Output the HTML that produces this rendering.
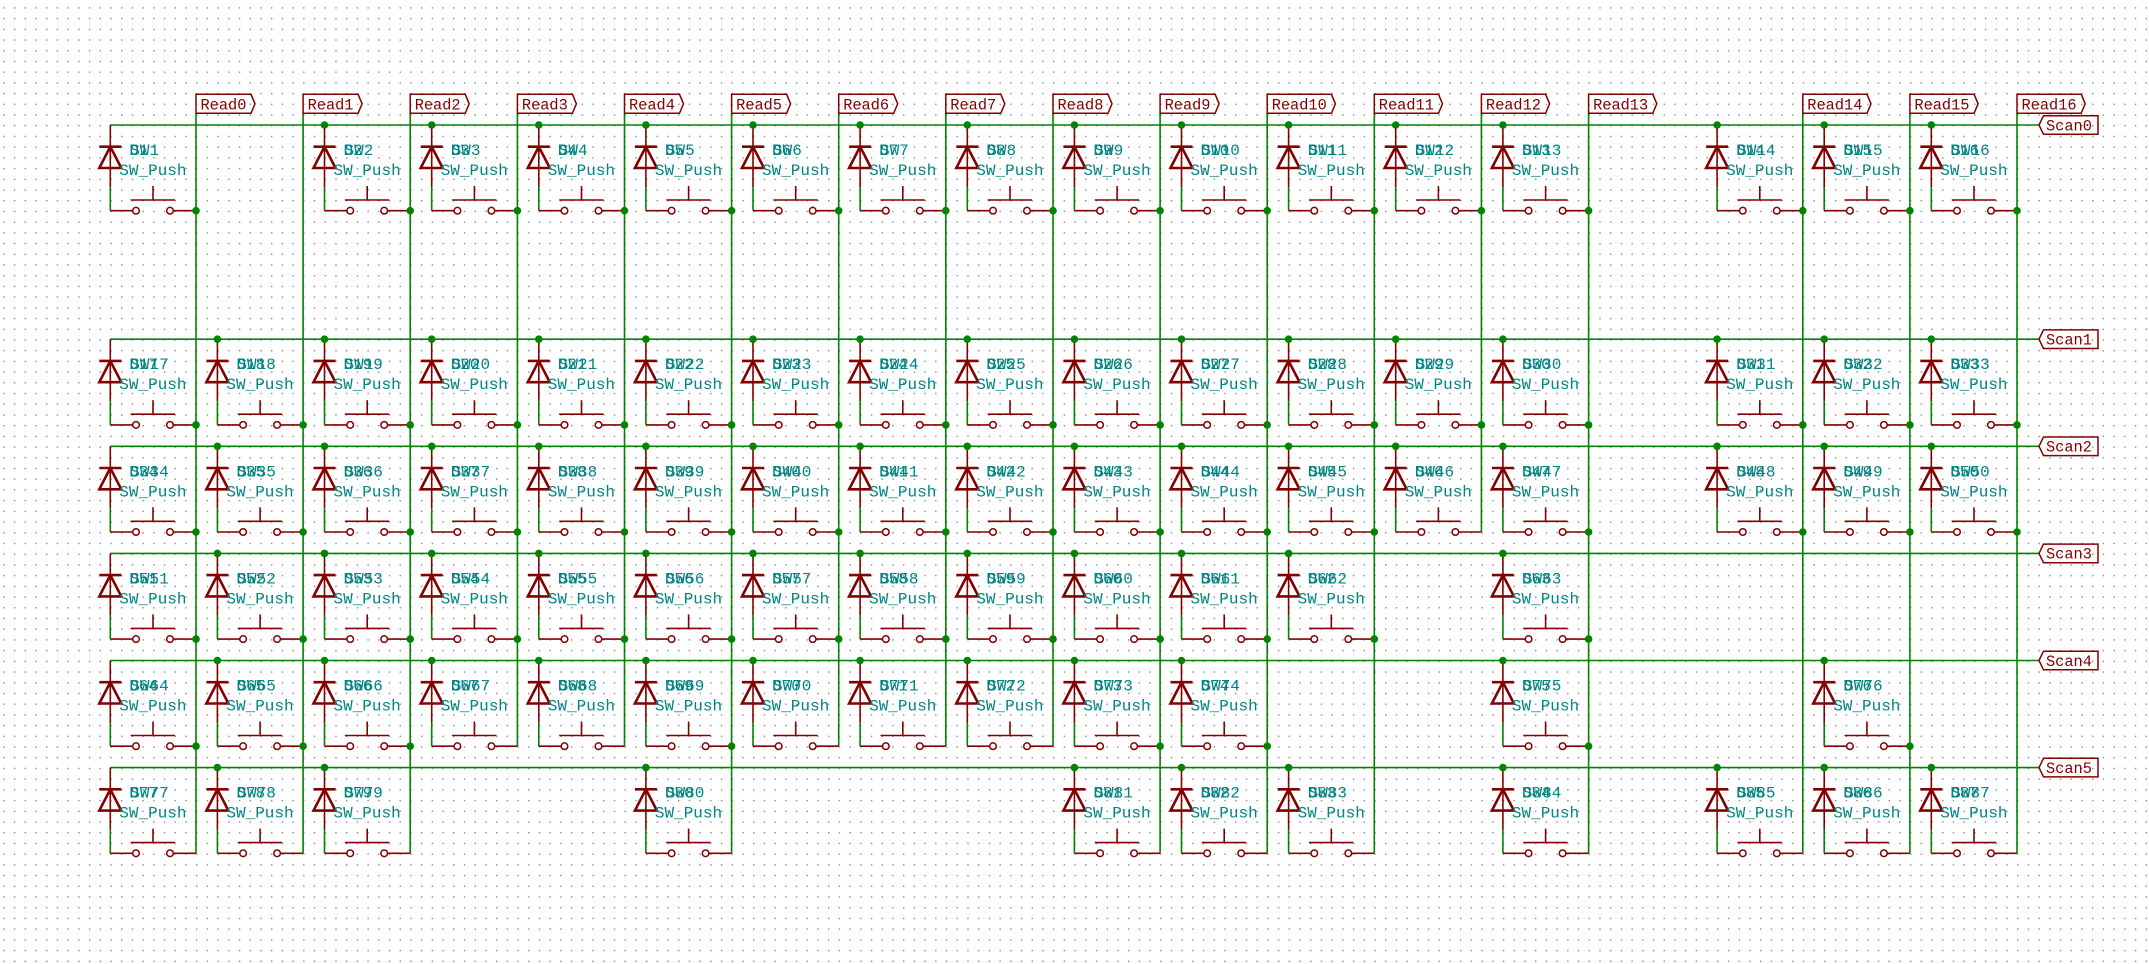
<!DOCTYPE html>
<html><head><meta charset="utf-8"><style>
html,body{margin:0;padding:0;background:#fff;width:2149px;height:964px;overflow:hidden}
svg{display:block}
.t{font-family:"Liberation Mono",monospace;font-size:16px;fill:#008484}
.l{font-family:"Liberation Mono",monospace;font-size:15.3px;fill:#840000}
</style></head><body>
<svg width="2149" height="964" viewBox="0 0 2149 964" xmlns="http://www.w3.org/2000/svg">
<defs>
<pattern id="grid" x="3.2" y="7.2" width="10.712" height="10.712" patternUnits="userSpaceOnUse"><rect x="0" y="0" width="1.4" height="1.4" fill="#8a8a8a"/></pattern>
<g id="sw">
<line x1="0" y1="0" x2="0" y2="62" stroke="#840000" stroke-width="1.6"/>
<line x1="0" y1="62" x2="0" y2="85.7" stroke="#008400" stroke-width="1.6"/>
<line x1="-11" y1="21.7" x2="11" y2="21.7" stroke="#840000" stroke-width="2.6"/>
<polygon points="0,21.7 -11,43 11,43" fill="none" stroke="#840000" stroke-width="2.6"/>
<line x1="0" y1="85.7" x2="22.4" y2="85.7" stroke="#840000" stroke-width="1.6"/>
<circle cx="25.7" cy="85.7" r="3.3" fill="none" stroke="#840000" stroke-width="1.5"/>
<circle cx="59.7" cy="85.7" r="3.3" fill="none" stroke="#840000" stroke-width="1.5"/>
<line x1="63" y1="85.7" x2="85.7" y2="85.7" stroke="#840000" stroke-width="1.6"/>
<line x1="20.4" y1="75" x2="64.7" y2="75" stroke="#840000" stroke-width="1.6"/>
<line x1="42.7" y1="61" x2="42.7" y2="75" stroke="#840000" stroke-width="1.6"/>
</g>
<circle id="dot" cx="0" cy="0" r="3.8" fill="#008400"/>
</defs>
<rect width="2149" height="964" fill="url(#grid)"/>

<g stroke="#008400" stroke-width="1.6">
<!-- scan lines -->
<line x1="110.3" y1="125" x2="2039" y2="125"/>
<line x1="110.3" y1="339.2" x2="2039" y2="339.2"/>
<line x1="110.3" y1="446.3" x2="2039" y2="446.3"/>
<line x1="110.3" y1="553.4" x2="2039" y2="553.4"/>
<line x1="110.3" y1="660.5" x2="2039" y2="660.5"/>
<line x1="110.3" y1="767.6" x2="2039" y2="767.6"/>
<!-- read lines -->
<line x1="196" y1="113.3" x2="196" y2="853.3"/>
<line x1="303.1" y1="113.3" x2="303.1" y2="853.3"/>
<line x1="410.2" y1="113.3" x2="410.2" y2="853.3"/>
<line x1="517.4" y1="113.3" x2="517.4" y2="746.2"/>
<line x1="624.5" y1="113.3" x2="624.5" y2="746.2"/>
<line x1="731.6" y1="113.3" x2="731.6" y2="853.3"/>
<line x1="838.7" y1="113.3" x2="838.7" y2="746.2"/>
<line x1="945.8" y1="113.3" x2="945.8" y2="746.2"/>
<line x1="1053" y1="113.3" x2="1053" y2="746.2"/>
<line x1="1160.1" y1="113.3" x2="1160.1" y2="853.3"/>
<line x1="1267.2" y1="113.3" x2="1267.2" y2="853.3"/>
<line x1="1374.3" y1="113.3" x2="1374.3" y2="853.3"/>
<line x1="1481.4" y1="113.3" x2="1481.4" y2="532"/>
<line x1="1588.6" y1="113.3" x2="1588.6" y2="853.3"/>
<line x1="1802.8" y1="113.3" x2="1802.8" y2="853.3"/>
<line x1="1909.9" y1="113.3" x2="1909.9" y2="853.3"/>
<line x1="2017" y1="113.3" x2="2017" y2="853.3"/>
</g>

<!-- Read labels -->
<g fill="none" stroke="#840000" stroke-width="1.5">
<path d="M196,113.3V94.3H251L255,103.8L251,113.3Z"/>
<path d="M303.1,113.3V94.3H358.1L362.1,103.8L358.1,113.3Z"/>
<path d="M410.2,113.3V94.3H465.2L469.2,103.8L465.2,113.3Z"/>
<path d="M517.4,113.3V94.3H572.4L576.4,103.8L572.4,113.3Z"/>
<path d="M624.5,113.3V94.3H679.5L683.5,103.8L679.5,113.3Z"/>
<path d="M731.6,113.3V94.3H786.6L790.6,103.8L786.6,113.3Z"/>
<path d="M838.7,113.3V94.3H893.7L897.7,103.8L893.7,113.3Z"/>
<path d="M945.8,113.3V94.3H1000.8L1004.8,103.8L1000.8,113.3Z"/>
<path d="M1053,113.3V94.3H1108L1112,103.8L1108,113.3Z"/>
<path d="M1160.1,113.3V94.3H1215.1L1219.1,103.8L1215.1,113.3Z"/>
<path d="M1267.2,113.3V94.3H1331.4L1335.4,103.8L1331.4,113.3Z"/>
<path d="M1374.3,113.3V94.3H1438.5L1442.5,103.8L1438.5,113.3Z"/>
<path d="M1481.4,113.3V94.3H1545.6L1549.6,103.8L1545.6,113.3Z"/>
<path d="M1588.6,113.3V94.3H1652.8L1656.8,103.8L1652.8,113.3Z"/>
<path d="M1802.8,113.3V94.3H1867L1871,103.8L1867,113.3Z"/>
<path d="M1909.9,113.3V94.3H1974.1L1978.1,103.8L1974.1,113.3Z"/>
<path d="M2017,113.3V94.3H2081.2L2085.2,103.8L2081.2,113.3Z"/>
<path d="M2039,125L2043.5,115.7H2098V134.3H2043.5Z"/>
<path d="M2039,339.2L2043.5,329.9H2098V348.5H2043.5Z"/>
<path d="M2039,446.3L2043.5,437H2098V455.6H2043.5Z"/>
<path d="M2039,553.4L2043.5,544.1H2098V562.7H2043.5Z"/>
<path d="M2039,660.5L2043.5,651.2H2098V669.8H2043.5Z"/>
<path d="M2039,767.6L2043.5,758.3H2098V776.9H2043.5Z"/>
</g>
<g class="l">
<text x="200.5" y="109.3">Read0</text>
<text x="307.6" y="109.3">Read1</text>
<text x="414.7" y="109.3">Read2</text>
<text x="521.9" y="109.3">Read3</text>
<text x="629" y="109.3">Read4</text>
<text x="736.1" y="109.3">Read5</text>
<text x="843.2" y="109.3">Read6</text>
<text x="950.3" y="109.3">Read7</text>
<text x="1057.5" y="109.3">Read8</text>
<text x="1164.6" y="109.3">Read9</text>
<text x="1271.7" y="109.3">Read10</text>
<text x="1378.8" y="109.3">Read11</text>
<text x="1485.9" y="109.3">Read12</text>
<text x="1593.1" y="109.3">Read13</text>
<text x="1807.3" y="109.3">Read14</text>
<text x="1914.4" y="109.3">Read15</text>
<text x="2021.5" y="109.3">Read16</text>
<text x="2046" y="130.3">Scan0</text>
<text x="2046" y="344.5">Scan1</text>
<text x="2046" y="451.6">Scan2</text>
<text x="2046" y="558.7">Scan3</text>
<text x="2046" y="665.8">Scan4</text>
<text x="2046" y="772.9">Scan5</text>
</g>

<!-- Switch cells -->
<g class="t">
<!-- row 0 -->
<g transform="translate(110.3,125)"><use href="#sw"/><text x="19" y="30">D1</text><text x="20" y="30">SW1</text><text x="9" y="50">SW_Push</text></g>
<g transform="translate(324.5,125)"><use href="#sw"/><text x="19" y="30">D2</text><text x="20" y="30">SW2</text><text x="9" y="50">SW_Push</text></g>
<g transform="translate(431.7,125)"><use href="#sw"/><text x="19" y="30">D3</text><text x="20" y="30">SW3</text><text x="9" y="50">SW_Push</text></g>
<g transform="translate(538.8,125)"><use href="#sw"/><text x="19" y="30">D4</text><text x="20" y="30">SW4</text><text x="9" y="50">SW_Push</text></g>
<g transform="translate(645.9,125)"><use href="#sw"/><text x="19" y="30">D5</text><text x="20" y="30">SW5</text><text x="9" y="50">SW_Push</text></g>
<g transform="translate(753,125)"><use href="#sw"/><text x="19" y="30">D6</text><text x="20" y="30">SW6</text><text x="9" y="50">SW_Push</text></g>
<g transform="translate(860.1,125)"><use href="#sw"/><text x="19" y="30">D7</text><text x="20" y="30">SW7</text><text x="9" y="50">SW_Push</text></g>
<g transform="translate(967.3,125)"><use href="#sw"/><text x="19" y="30">D8</text><text x="20" y="30">SW8</text><text x="9" y="50">SW_Push</text></g>
<g transform="translate(1074.4,125)"><use href="#sw"/><text x="19" y="30">D9</text><text x="20" y="30">SW9</text><text x="9" y="50">SW_Push</text></g>
<g transform="translate(1181.5,125)"><use href="#sw"/><text x="19" y="30">D10</text><text x="20" y="30">SW10</text><text x="9" y="50">SW_Push</text></g>
<g transform="translate(1288.6,125)"><use href="#sw"/><text x="19" y="30">D11</text><text x="20" y="30">SW11</text><text x="9" y="50">SW_Push</text></g>
<g transform="translate(1395.7,125)"><use href="#sw"/><text x="19" y="30">D12</text><text x="20" y="30">SW12</text><text x="9" y="50">SW_Push</text></g>
<g transform="translate(1502.9,125)"><use href="#sw"/><text x="19" y="30">D13</text><text x="20" y="30">SW13</text><text x="9" y="50">SW_Push</text></g>
<g transform="translate(1717.1,125)"><use href="#sw"/><text x="19" y="30">D14</text><text x="20" y="30">SW14</text><text x="9" y="50">SW_Push</text></g>
<g transform="translate(1824.2,125)"><use href="#sw"/><text x="19" y="30">D15</text><text x="20" y="30">SW15</text><text x="9" y="50">SW_Push</text></g>
<g transform="translate(1931.3,125)"><use href="#sw"/><text x="19" y="30">D16</text><text x="20" y="30">SW16</text><text x="9" y="50">SW_Push</text></g>
<!-- row 1 -->
<g transform="translate(110.3,339.2)"><use href="#sw"/><text x="19" y="30">D17</text><text x="20" y="30">SW17</text><text x="9" y="50">SW_Push</text></g>
<g transform="translate(217.4,339.2)"><use href="#sw"/><text x="19" y="30">D18</text><text x="20" y="30">SW18</text><text x="9" y="50">SW_Push</text></g>
<g transform="translate(324.5,339.2)"><use href="#sw"/><text x="19" y="30">D19</text><text x="20" y="30">SW19</text><text x="9" y="50">SW_Push</text></g>
<g transform="translate(431.7,339.2)"><use href="#sw"/><text x="19" y="30">D20</text><text x="20" y="30">SW20</text><text x="9" y="50">SW_Push</text></g>
<g transform="translate(538.8,339.2)"><use href="#sw"/><text x="19" y="30">D21</text><text x="20" y="30">SW21</text><text x="9" y="50">SW_Push</text></g>
<g transform="translate(645.9,339.2)"><use href="#sw"/><text x="19" y="30">D22</text><text x="20" y="30">SW22</text><text x="9" y="50">SW_Push</text></g>
<g transform="translate(753,339.2)"><use href="#sw"/><text x="19" y="30">D23</text><text x="20" y="30">SW23</text><text x="9" y="50">SW_Push</text></g>
<g transform="translate(860.1,339.2)"><use href="#sw"/><text x="19" y="30">D24</text><text x="20" y="30">SW24</text><text x="9" y="50">SW_Push</text></g>
<g transform="translate(967.3,339.2)"><use href="#sw"/><text x="19" y="30">D25</text><text x="20" y="30">SW25</text><text x="9" y="50">SW_Push</text></g>
<g transform="translate(1074.4,339.2)"><use href="#sw"/><text x="19" y="30">D26</text><text x="20" y="30">SW26</text><text x="9" y="50">SW_Push</text></g>
<g transform="translate(1181.5,339.2)"><use href="#sw"/><text x="19" y="30">D27</text><text x="20" y="30">SW27</text><text x="9" y="50">SW_Push</text></g>
<g transform="translate(1288.6,339.2)"><use href="#sw"/><text x="19" y="30">D28</text><text x="20" y="30">SW28</text><text x="9" y="50">SW_Push</text></g>
<g transform="translate(1395.7,339.2)"><use href="#sw"/><text x="19" y="30">D29</text><text x="20" y="30">SW29</text><text x="9" y="50">SW_Push</text></g>
<g transform="translate(1502.9,339.2)"><use href="#sw"/><text x="19" y="30">D30</text><text x="20" y="30">SW30</text><text x="9" y="50">SW_Push</text></g>
<g transform="translate(1717.1,339.2)"><use href="#sw"/><text x="19" y="30">D31</text><text x="20" y="30">SW31</text><text x="9" y="50">SW_Push</text></g>
<g transform="translate(1824.2,339.2)"><use href="#sw"/><text x="19" y="30">D32</text><text x="20" y="30">SW32</text><text x="9" y="50">SW_Push</text></g>
<g transform="translate(1931.3,339.2)"><use href="#sw"/><text x="19" y="30">D33</text><text x="20" y="30">SW33</text><text x="9" y="50">SW_Push</text></g>
<!-- row 2 -->
<g transform="translate(110.3,446.3)"><use href="#sw"/><text x="19" y="30">D34</text><text x="20" y="30">SW34</text><text x="9" y="50">SW_Push</text></g>
<g transform="translate(217.4,446.3)"><use href="#sw"/><text x="19" y="30">D35</text><text x="20" y="30">SW35</text><text x="9" y="50">SW_Push</text></g>
<g transform="translate(324.5,446.3)"><use href="#sw"/><text x="19" y="30">D36</text><text x="20" y="30">SW36</text><text x="9" y="50">SW_Push</text></g>
<g transform="translate(431.7,446.3)"><use href="#sw"/><text x="19" y="30">D37</text><text x="20" y="30">SW37</text><text x="9" y="50">SW_Push</text></g>
<g transform="translate(538.8,446.3)"><use href="#sw"/><text x="19" y="30">D38</text><text x="20" y="30">SW38</text><text x="9" y="50">SW_Push</text></g>
<g transform="translate(645.9,446.3)"><use href="#sw"/><text x="19" y="30">D39</text><text x="20" y="30">SW39</text><text x="9" y="50">SW_Push</text></g>
<g transform="translate(753,446.3)"><use href="#sw"/><text x="19" y="30">D40</text><text x="20" y="30">SW40</text><text x="9" y="50">SW_Push</text></g>
<g transform="translate(860.1,446.3)"><use href="#sw"/><text x="19" y="30">D41</text><text x="20" y="30">SW41</text><text x="9" y="50">SW_Push</text></g>
<g transform="translate(967.3,446.3)"><use href="#sw"/><text x="19" y="30">D42</text><text x="20" y="30">SW42</text><text x="9" y="50">SW_Push</text></g>
<g transform="translate(1074.4,446.3)"><use href="#sw"/><text x="19" y="30">D43</text><text x="20" y="30">SW43</text><text x="9" y="50">SW_Push</text></g>
<g transform="translate(1181.5,446.3)"><use href="#sw"/><text x="19" y="30">D44</text><text x="20" y="30">SW44</text><text x="9" y="50">SW_Push</text></g>
<g transform="translate(1288.6,446.3)"><use href="#sw"/><text x="19" y="30">D45</text><text x="20" y="30">SW45</text><text x="9" y="50">SW_Push</text></g>
<g transform="translate(1395.7,446.3)"><use href="#sw"/><text x="19" y="30">D46</text><text x="20" y="30">SW46</text><text x="9" y="50">SW_Push</text></g>
<g transform="translate(1502.9,446.3)"><use href="#sw"/><text x="19" y="30">D47</text><text x="20" y="30">SW47</text><text x="9" y="50">SW_Push</text></g>
<g transform="translate(1717.1,446.3)"><use href="#sw"/><text x="19" y="30">D48</text><text x="20" y="30">SW48</text><text x="9" y="50">SW_Push</text></g>
<g transform="translate(1824.2,446.3)"><use href="#sw"/><text x="19" y="30">D49</text><text x="20" y="30">SW49</text><text x="9" y="50">SW_Push</text></g>
<g transform="translate(1931.3,446.3)"><use href="#sw"/><text x="19" y="30">D50</text><text x="20" y="30">SW50</text><text x="9" y="50">SW_Push</text></g>
<!-- row 3 -->
<g transform="translate(110.3,553.4)"><use href="#sw"/><text x="19" y="30">D51</text><text x="20" y="30">SW51</text><text x="9" y="50">SW_Push</text></g>
<g transform="translate(217.4,553.4)"><use href="#sw"/><text x="19" y="30">D52</text><text x="20" y="30">SW52</text><text x="9" y="50">SW_Push</text></g>
<g transform="translate(324.5,553.4)"><use href="#sw"/><text x="19" y="30">D53</text><text x="20" y="30">SW53</text><text x="9" y="50">SW_Push</text></g>
<g transform="translate(431.7,553.4)"><use href="#sw"/><text x="19" y="30">D54</text><text x="20" y="30">SW54</text><text x="9" y="50">SW_Push</text></g>
<g transform="translate(538.8,553.4)"><use href="#sw"/><text x="19" y="30">D55</text><text x="20" y="30">SW55</text><text x="9" y="50">SW_Push</text></g>
<g transform="translate(645.9,553.4)"><use href="#sw"/><text x="19" y="30">D56</text><text x="20" y="30">SW56</text><text x="9" y="50">SW_Push</text></g>
<g transform="translate(753,553.4)"><use href="#sw"/><text x="19" y="30">D57</text><text x="20" y="30">SW57</text><text x="9" y="50">SW_Push</text></g>
<g transform="translate(860.1,553.4)"><use href="#sw"/><text x="19" y="30">D58</text><text x="20" y="30">SW58</text><text x="9" y="50">SW_Push</text></g>
<g transform="translate(967.3,553.4)"><use href="#sw"/><text x="19" y="30">D59</text><text x="20" y="30">SW59</text><text x="9" y="50">SW_Push</text></g>
<g transform="translate(1074.4,553.4)"><use href="#sw"/><text x="19" y="30">D60</text><text x="20" y="30">SW60</text><text x="9" y="50">SW_Push</text></g>
<g transform="translate(1181.5,553.4)"><use href="#sw"/><text x="19" y="30">D61</text><text x="20" y="30">SW61</text><text x="9" y="50">SW_Push</text></g>
<g transform="translate(1288.6,553.4)"><use href="#sw"/><text x="19" y="30">D62</text><text x="20" y="30">SW62</text><text x="9" y="50">SW_Push</text></g>
<g transform="translate(1502.9,553.4)"><use href="#sw"/><text x="19" y="30">D63</text><text x="20" y="30">SW63</text><text x="9" y="50">SW_Push</text></g>
<!-- row 4 -->
<g transform="translate(110.3,660.5)"><use href="#sw"/><text x="19" y="30">D64</text><text x="20" y="30">SW64</text><text x="9" y="50">SW_Push</text></g>
<g transform="translate(217.4,660.5)"><use href="#sw"/><text x="19" y="30">D65</text><text x="20" y="30">SW65</text><text x="9" y="50">SW_Push</text></g>
<g transform="translate(324.5,660.5)"><use href="#sw"/><text x="19" y="30">D66</text><text x="20" y="30">SW66</text><text x="9" y="50">SW_Push</text></g>
<g transform="translate(431.7,660.5)"><use href="#sw"/><text x="19" y="30">D67</text><text x="20" y="30">SW67</text><text x="9" y="50">SW_Push</text></g>
<g transform="translate(538.8,660.5)"><use href="#sw"/><text x="19" y="30">D68</text><text x="20" y="30">SW68</text><text x="9" y="50">SW_Push</text></g>
<g transform="translate(645.9,660.5)"><use href="#sw"/><text x="19" y="30">D69</text><text x="20" y="30">SW69</text><text x="9" y="50">SW_Push</text></g>
<g transform="translate(753,660.5)"><use href="#sw"/><text x="19" y="30">D70</text><text x="20" y="30">SW70</text><text x="9" y="50">SW_Push</text></g>
<g transform="translate(860.1,660.5)"><use href="#sw"/><text x="19" y="30">D71</text><text x="20" y="30">SW71</text><text x="9" y="50">SW_Push</text></g>
<g transform="translate(967.3,660.5)"><use href="#sw"/><text x="19" y="30">D72</text><text x="20" y="30">SW72</text><text x="9" y="50">SW_Push</text></g>
<g transform="translate(1074.4,660.5)"><use href="#sw"/><text x="19" y="30">D73</text><text x="20" y="30">SW73</text><text x="9" y="50">SW_Push</text></g>
<g transform="translate(1181.5,660.5)"><use href="#sw"/><text x="19" y="30">D74</text><text x="20" y="30">SW74</text><text x="9" y="50">SW_Push</text></g>
<g transform="translate(1502.9,660.5)"><use href="#sw"/><text x="19" y="30">D75</text><text x="20" y="30">SW75</text><text x="9" y="50">SW_Push</text></g>
<g transform="translate(1824.2,660.5)"><use href="#sw"/><text x="19" y="30">D76</text><text x="20" y="30">SW76</text><text x="9" y="50">SW_Push</text></g>
<!-- row 5 -->
<g transform="translate(110.3,767.6)"><use href="#sw"/><text x="19" y="30">D77</text><text x="20" y="30">SW77</text><text x="9" y="50">SW_Push</text></g>
<g transform="translate(217.4,767.6)"><use href="#sw"/><text x="19" y="30">D78</text><text x="20" y="30">SW78</text><text x="9" y="50">SW_Push</text></g>
<g transform="translate(324.5,767.6)"><use href="#sw"/><text x="19" y="30">D79</text><text x="20" y="30">SW79</text><text x="9" y="50">SW_Push</text></g>
<g transform="translate(645.9,767.6)"><use href="#sw"/><text x="19" y="30">D80</text><text x="20" y="30">SW80</text><text x="9" y="50">SW_Push</text></g>
<g transform="translate(1074.4,767.6)"><use href="#sw"/><text x="19" y="30">D81</text><text x="20" y="30">SW81</text><text x="9" y="50">SW_Push</text></g>
<g transform="translate(1181.5,767.6)"><use href="#sw"/><text x="19" y="30">D82</text><text x="20" y="30">SW82</text><text x="9" y="50">SW_Push</text></g>
<g transform="translate(1288.6,767.6)"><use href="#sw"/><text x="19" y="30">D83</text><text x="20" y="30">SW83</text><text x="9" y="50">SW_Push</text></g>
<g transform="translate(1502.9,767.6)"><use href="#sw"/><text x="19" y="30">D84</text><text x="20" y="30">SW84</text><text x="9" y="50">SW_Push</text></g>
<g transform="translate(1717.1,767.6)"><use href="#sw"/><text x="19" y="30">D85</text><text x="20" y="30">SW85</text><text x="9" y="50">SW_Push</text></g>
<g transform="translate(1824.2,767.6)"><use href="#sw"/><text x="19" y="30">D86</text><text x="20" y="30">SW86</text><text x="9" y="50">SW_Push</text></g>
<g transform="translate(1931.3,767.6)"><use href="#sw"/><text x="19" y="30">D87</text><text x="20" y="30">SW87</text><text x="9" y="50">SW_Push</text></g>
</g>

<!-- junction dots: top (diode on scan line) -->
<g>
<use href="#dot" x="324.5" y="125"/><use href="#dot" x="431.7" y="125"/><use href="#dot" x="538.8" y="125"/><use href="#dot" x="645.9" y="125"/><use href="#dot" x="753" y="125"/><use href="#dot" x="860.1" y="125"/><use href="#dot" x="967.3" y="125"/><use href="#dot" x="1074.4" y="125"/><use href="#dot" x="1181.5" y="125"/><use href="#dot" x="1288.6" y="125"/><use href="#dot" x="1395.7" y="125"/><use href="#dot" x="1502.9" y="125"/><use href="#dot" x="1717.1" y="125"/><use href="#dot" x="1824.2" y="125"/><use href="#dot" x="1931.3" y="125"/>

<use href="#dot" x="217.4" y="339.2"/><use href="#dot" x="324.5" y="339.2"/><use href="#dot" x="431.7" y="339.2"/><use href="#dot" x="538.8" y="339.2"/><use href="#dot" x="645.9" y="339.2"/><use href="#dot" x="753" y="339.2"/><use href="#dot" x="860.1" y="339.2"/><use href="#dot" x="967.3" y="339.2"/><use href="#dot" x="1074.4" y="339.2"/><use href="#dot" x="1181.5" y="339.2"/><use href="#dot" x="1288.6" y="339.2"/><use href="#dot" x="1395.7" y="339.2"/><use href="#dot" x="1502.9" y="339.2"/><use href="#dot" x="1717.1" y="339.2"/><use href="#dot" x="1824.2" y="339.2"/><use href="#dot" x="1931.3" y="339.2"/>

<use href="#dot" x="217.4" y="446.3"/><use href="#dot" x="324.5" y="446.3"/><use href="#dot" x="431.7" y="446.3"/><use href="#dot" x="538.8" y="446.3"/><use href="#dot" x="645.9" y="446.3"/><use href="#dot" x="753" y="446.3"/><use href="#dot" x="860.1" y="446.3"/><use href="#dot" x="967.3" y="446.3"/><use href="#dot" x="1074.4" y="446.3"/><use href="#dot" x="1181.5" y="446.3"/><use href="#dot" x="1288.6" y="446.3"/><use href="#dot" x="1395.7" y="446.3"/><use href="#dot" x="1502.9" y="446.3"/><use href="#dot" x="1717.1" y="446.3"/><use href="#dot" x="1824.2" y="446.3"/><use href="#dot" x="1931.3" y="446.3"/>

<use href="#dot" x="217.4" y="553.4"/><use href="#dot" x="324.5" y="553.4"/><use href="#dot" x="431.7" y="553.4"/><use href="#dot" x="538.8" y="553.4"/><use href="#dot" x="645.9" y="553.4"/><use href="#dot" x="753" y="553.4"/><use href="#dot" x="860.1" y="553.4"/><use href="#dot" x="967.3" y="553.4"/><use href="#dot" x="1074.4" y="553.4"/><use href="#dot" x="1181.5" y="553.4"/><use href="#dot" x="1288.6" y="553.4"/><use href="#dot" x="1502.9" y="553.4"/>

<use href="#dot" x="217.4" y="660.5"/><use href="#dot" x="324.5" y="660.5"/><use href="#dot" x="431.7" y="660.5"/><use href="#dot" x="538.8" y="660.5"/><use href="#dot" x="645.9" y="660.5"/><use href="#dot" x="753" y="660.5"/><use href="#dot" x="860.1" y="660.5"/><use href="#dot" x="967.3" y="660.5"/><use href="#dot" x="1074.4" y="660.5"/><use href="#dot" x="1181.5" y="660.5"/><use href="#dot" x="1502.9" y="660.5"/><use href="#dot" x="1824.2" y="660.5"/>

<use href="#dot" x="217.4" y="767.6"/><use href="#dot" x="324.5" y="767.6"/><use href="#dot" x="645.9" y="767.6"/><use href="#dot" x="1074.4" y="767.6"/><use href="#dot" x="1181.5" y="767.6"/><use href="#dot" x="1288.6" y="767.6"/><use href="#dot" x="1502.9" y="767.6"/><use href="#dot" x="1717.1" y="767.6"/><use href="#dot" x="1824.2" y="767.6"/><use href="#dot" x="1931.3" y="767.6"/>

<!-- bottom dots on read lines -->
<use href="#dot" x="196" y="210.7"/><use href="#dot" x="410.2" y="210.7"/><use href="#dot" x="517.4" y="210.7"/><use href="#dot" x="624.5" y="210.7"/><use href="#dot" x="731.6" y="210.7"/><use href="#dot" x="838.7" y="210.7"/><use href="#dot" x="945.8" y="210.7"/><use href="#dot" x="1053" y="210.7"/><use href="#dot" x="1160.1" y="210.7"/><use href="#dot" x="1267.2" y="210.7"/><use href="#dot" x="1374.3" y="210.7"/><use href="#dot" x="1481.4" y="210.7"/><use href="#dot" x="1588.6" y="210.7"/><use href="#dot" x="1802.8" y="210.7"/><use href="#dot" x="1909.9" y="210.7"/><use href="#dot" x="2017" y="210.7"/>

<use href="#dot" x="196" y="424.9"/><use href="#dot" x="303.1" y="424.9"/><use href="#dot" x="410.2" y="424.9"/><use href="#dot" x="517.4" y="424.9"/><use href="#dot" x="624.5" y="424.9"/><use href="#dot" x="731.6" y="424.9"/><use href="#dot" x="838.7" y="424.9"/><use href="#dot" x="945.8" y="424.9"/><use href="#dot" x="1053" y="424.9"/><use href="#dot" x="1160.1" y="424.9"/><use href="#dot" x="1267.2" y="424.9"/><use href="#dot" x="1374.3" y="424.9"/><use href="#dot" x="1481.4" y="424.9"/><use href="#dot" x="1588.6" y="424.9"/><use href="#dot" x="1802.8" y="424.9"/><use href="#dot" x="1909.9" y="424.9"/><use href="#dot" x="2017" y="424.9"/>

<use href="#dot" x="196" y="532"/><use href="#dot" x="303.1" y="532"/><use href="#dot" x="410.2" y="532"/><use href="#dot" x="517.4" y="532"/><use href="#dot" x="624.5" y="532"/><use href="#dot" x="731.6" y="532"/><use href="#dot" x="838.7" y="532"/><use href="#dot" x="945.8" y="532"/><use href="#dot" x="1053" y="532"/><use href="#dot" x="1160.1" y="532"/><use href="#dot" x="1267.2" y="532"/><use href="#dot" x="1374.3" y="532"/><use href="#dot" x="1588.6" y="532"/><use href="#dot" x="1802.8" y="532"/><use href="#dot" x="1909.9" y="532"/><use href="#dot" x="2017" y="532"/>

<use href="#dot" x="196" y="639.1"/><use href="#dot" x="303.1" y="639.1"/><use href="#dot" x="410.2" y="639.1"/><use href="#dot" x="517.4" y="639.1"/><use href="#dot" x="624.5" y="639.1"/><use href="#dot" x="731.6" y="639.1"/><use href="#dot" x="838.7" y="639.1"/><use href="#dot" x="945.8" y="639.1"/><use href="#dot" x="1053" y="639.1"/><use href="#dot" x="1160.1" y="639.1"/><use href="#dot" x="1267.2" y="639.1"/><use href="#dot" x="1374.3" y="639.1"/><use href="#dot" x="1588.6" y="639.1"/>

<use href="#dot" x="196" y="746.2"/><use href="#dot" x="303.1" y="746.2"/><use href="#dot" x="410.2" y="746.2"/><use href="#dot" x="731.6" y="746.2"/><use href="#dot" x="1160.1" y="746.2"/><use href="#dot" x="1267.2" y="746.2"/><use href="#dot" x="1588.6" y="746.2"/><use href="#dot" x="1909.9" y="746.2"/>
</g>
</svg>
</body></html>
